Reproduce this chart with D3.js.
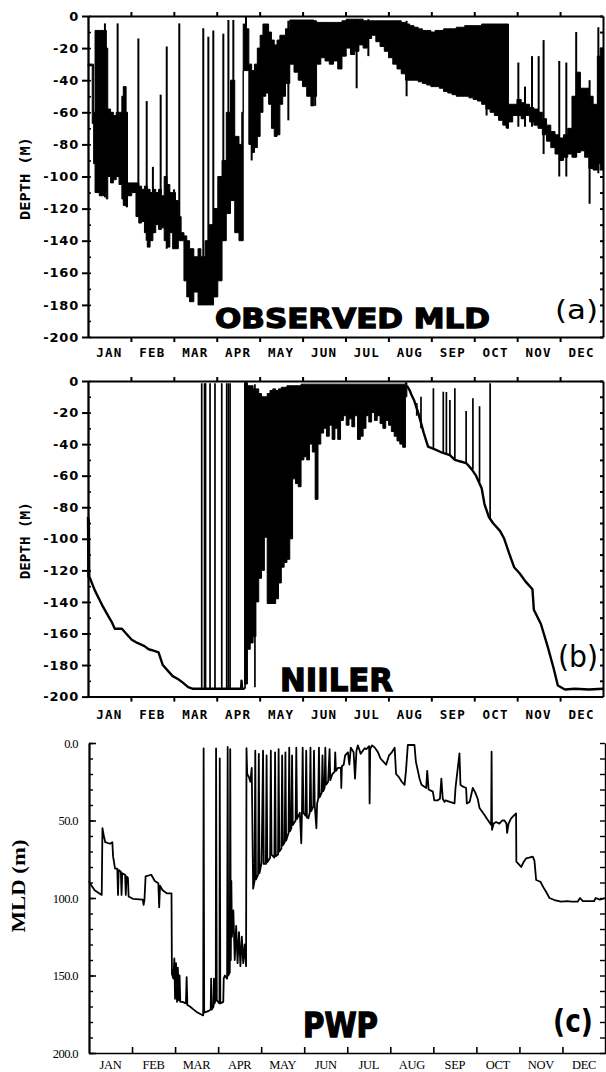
<!DOCTYPE html>
<html><head><meta charset="utf-8">
<script src="https://cdn.jsdelivr.net/npm/d3@7"></script>
<style>body{margin:0;background:#fff}svg{display:block}</style>
</head><body>
<svg id="chart" width="606" height="1072"></svg>
<script>
// ---------- data ----------
const months = ["JAN","FEB","MAR","APR","MAY","JUN","JUL","AUG","SEP","OCT","NOV","DEC"];
const monthsC = ["JAN","FEB","MAR","APR","MAY","JUN","JUL","AUG","SEP","OCT","NOV","DEC"];
const depthTicks = [0,-20,-40,-60,-80,-100,-120,-140,-160,-180,-200];
const depthMinor = [0,-10,-20,-30,-40,-50,-60,-70,-80,-90,-100,-110,-120,-130,-140,-150,-160,-170,-180,-190,-200];
const mldTicks = [0,50,100,150,200];
const mldMinor = [0,10,20,30,40,50,60,70,80,90,100,110,120,130,140,150,160,170,180,190,200];

// Observed MLD: [day, shallowest depth, deepest depth] of the dense oscillation band (m)
const obsBand = [
[0,30,31],[3,30,67],[4,60,92],[5,9,110],[8,9,112],[11,9,110],[13,20,114],[14,58,100],[16,60,104],[18,62,102],[20,60,100],[22,60,105],[24,50,114],[25,44,118],[27,60,119],[28,104,112],[31,104,110],[34,104,125],[36,106,129],[38,108,128],[40,106,135],[42,108,144],[44,110,140],[46,108,135],[48,110,130],[50,108,133],[52,112,132],[54,100,140],[56,105,144],[58,110,135],[60,110,145],[62,115,145],[64,125,140],[66,135,140],[68,137,165],[70,140,175],[72,145,178],[75,150,172],[78,145,180],[80,150,180],[83,140,180],[86,130,180],[89,120,175],[92,100,165],[95,90,140],[98,60,123],[101,40,115],[104,75,135],[107,80,140],[109,60,140],
[110,5,34],[112,8,34],[114,30,80],[116,34,85],[118,30,82],[120,20,75],[122,12,60],[124,5,50],[126,5,48],[128,10,55],[130,15,70],[132,18,75],[134,15,74],[136,12,55],[138,12,50],[140,8,42],[143,2.5,30],[146,2.5,35],[149,2.5,40],[152,2.5,44],[155,2.5,50],[158,2.5,56],[160,3,50],[162,4,30],[165,4,26],[168,4,28],[171,4,30],[174,4,28],[177,4,33],[180,3,25],[183,2,20],[186,2,24],[189,2,22],[192,2,18],[195,3,20],[198,3,14],[201,3,12],[204,3,16],[207,3,19],[210,3,22],[213,3,26],[216,3,30],[219,3,33],[222,4,36],[225,5,40],[228,6,40],[231,7,40],[234,8,41],[237,9,42],[240,9,43],[243,10,44],[246,9,44],[249,9,45],[252,8,47],[255,8,48],[258,8,49],[261,7,50],[264,7,50],[267,6,50],[270,6,51],[273,6,52],[276,6,53],[279,5,55],[282,5,58],[285,5,60],[288,5,62],[291,5,65],[294,5,68],[297,5,70],
[298,55,66],[301,55,62],[304,52,62],[307,54,64],[310,55,62],[313,57,66],[316,58,68],[319,60,70],[322,64,74],[325,68,78],[328,72,82],[331,74,86],[334,76,90],[337,74,88],[340,70,86],[343,50,88],[346,35,85],[349,45,84],[352,45,88],[355,50,95],[358,55,96],[361,25,92],[363,20,96],[365,30,96]
];
// Observed MLD isolated excursions: [day, top depth, bottom depth]
const obsSpikes = [[12,4.6,113],[21,4.6,100],[35.7,14,120],[41.6,53,140],[46,94,135],[51.5,49,124],[55.8,19,145],[61,108,145],[64.7,4.6,133],[81.7,7.6,179],[85.3,13,180],[88.8,9,175],[95.9,11,140],[99.5,2.5,123],[103,2.5,115],[112,0,34],[116,34,90],[142,3,65],[161,3,56],[190.4,2,45],[198.7,2,25],[225.8,3,50],[282.5,5,62],[296.7,5,70],[305,29,69],[309.7,44,69],[314.7,25,69],[319.4,25,69],[322.9,15,86],[334,28,100],[339,29,100],[346,10,88],[355.5,40,117],[361.7,7,98]];

// Niiler model: smooth parts [day, depth], oscillating band [day, top, bottom], excursions [day, top, bottom]
const niilerWinter = [[0,86],[0.3,124],[0.6,88],[0.9,124],[1.4,125],[5,133],[10,142],[15,150],[17,153],[19,157],[24,157],[27,160],[31,164],[35,166],[40,168],[43,170],[47,171],[50,172],[53,180],[57,184],[60,187],[64,189],[67,191],[71,194],[74,195],[108.5,195],[108.8,190],[109.2,195],[111,195]];
const niilerBand = [[111,1,192],[113,3,170],[115,3,166],[117,5,162],[119,5,140],[121,8,125],[123,10,120],[125,10,99],[127,8,141],[129,6,141],[131,5,141],[133,6,138],[135,5,128],[137,4,118],[139,4,115],[141,3,113],[143,3,100],[145,3,62],[147,3,65],[149,3,67],[151,2,50],[153,2,48],[155,2,50],[157,2,40],[159,2,45],[161,2,75],[163,2,40],[165,2,33],[167,2,30],[169,2,35],[171,2,28],[173,2,37],[175,2,30],[177,2,37],[179,2,25],[181,2,22],[183,2,28],[185,2,24],[187,2,29],[189,2,22],[191,2,37],[193,2,35],[195,2,30],[197,2,22],[199,2,26],[201,2,20],[203,2,25],[205,2,22],[207,2,27],[209,2,30],[211,2,25],[213,2,28],[215,2,32],[217,2,35],[219,2,38],[221,2,40],[223,2,42],[225,1,10],[226,1,3]];
const niilerAutumn = [[226,3],[228,6],[229.4,9],[231,12],[234,20],[238,33],[241,41.6],[245,43],[250,45],[256.5,47],[260,50],[264,51],[268,52],[272,56],[275,60],[279,68],[281,78],[284,86],[287,90],[292,95],[295,100],[298,108],[302,118],[306,122],[310,127],[315,132],[316,145],[321,154],[326,169],[330,182],[333,193],[338,195.5],[345,195],[355,195.5],[365,195]];
const niilerSpikes = [[80.6,1.5,195],[82.6,1.5,195],[83.3,1.5,195],[86.5,1.5,195],[90,1.5,195],[94.8,1.5,195],[98.3,1.5,195],[99.5,1.5,195],[100.7,1.5,195],[111.3,1.5,195],[118.3,2,194],[233,14,22],[236,10,30],[244.8,4.6,43],[251.8,6.8,45],[254,7,46],[256.5,12,47],[260,4.6,50],[268,19,52],[272.8,11,56],[277.5,16,64],[285,1.5,88]];

// PWP model: [day, MLD (m)]
const pwpSeries = [
[0,89],[1,91],[4,95],[9,98],[9.5,55],[10.5,60],[11.5,64],[14.8,65],[16.5,64],[17,73],[18.4,81],[20,81],[20.5,98],[21,82],[22.5,83],[23,98],[23.5,84],[25.5,85],[26,98],[26.5,86],[27.5,87],[28,99],[31,100.5],[38,101],[38.6,104.5],[39.2,101],[40,86],[44,85],[46.5,89],[49,90.5],[49.6,106],[50.2,92],[52,95],[55,97],[58.3,97],[58.6,149],[59.6,152],[60.3,139],[60.8,165],[61.5,142],[62.2,167],[62.8,145],[63.5,166],[64,150],[64.5,167],[66,167],[68.5,168],[69,151],[69.5,169],[71.3,170],[74,172],[76,173.5],[79,175],[80.7,175.7],[81,3.5],[81.4,174],[84.2,173],[86,172],[86.3,152],[86.8,172],[88,170],[88.3,152],[88.8,168],[89.6,165],[89.8,3.5],[90.3,166],[92.2,168],[92.4,10],[92.8,168],[94.9,167],[95.2,152],[96,150],[97.6,152],[98,2.5],[98.4,150],[99.5,148],[99.8,4],[100.2,140],[100.6,89],[101,125],[102,108],[103,140],[104,118],[105,142],[106,122],[107,144],[108,125],[109,142],[110,130],[111,144],[111.3,3.4],[111.8,20],[113,22],[114,25],[115,16],[116,94],[117,89],[117.5,5],[118,88],[119.5,85],[120,7],[120.5,84],[122,77],[123,5],[123.5,78],[125,78],[125.5,8],[126,77],[128,74],[128.5,5],[129,72],[131,74],[131.5,6],[132,73],[133.6,72],[134,4],[134.5,70],[136,68],[136.5,8],[137,66],[138.3,64],[138.8,6],[139.3,63],[141,58],[141.5,3],[142,57],[143,55],[143.5,8],[144,53],[146,50],[146.5,3],[147,49],[149,45],[150,64.7],[150.5,44],[151,3],[151.5,45],[153,47],[153.5,5],[154,48],[155,48.6],[156,45],[156.5,3],[157,44],[158.5,41],[159,5],[159.5,40],[160.7,55],[161.2,39],[162,36],[162.5,3],[163,35],[164.5,32],[165,8],[165.5,31],[166.5,29],[167,3],[167.5,27],[169,25],[170,4],[170.5,24],[172,20],[173.6,18.5],[174,6],[174.5,18],[176,16],[178,16],[178.3,29],[178.7,15],[180,14],[181,8],[183,6],[184,14],[185,3],[187,6],[188,23],[189,5],[190,1.5],[192,7],[194.8,3.4],[196,4],[198,2],[198.3,39],[198.7,4],[200,1.5],[202,3],[204,5.6],[206,10],[208,12],[210,14],[212,8],[214,6],[216,3],[217,20],[219,22],[221,25],[223,27],[224,18],[225.3,1.3],[230,1.3],[231,12],[233.6,23],[235,27],[238.3,29],[239,18],[240,30],[243,31.4],[244,37],[246.5,37],[248,36],[249,23],[250,36],[251.2,38],[252,37],[255,38],[258.3,39],[259,29],[261.8,6.7],[262.5,27],[264,28],[266.5,29],[267,39],[269,38],[271.2,29],[273,32],[274.7,36],[276,42],[279.5,46.5],[281,48.6],[284.2,52.9],[284.5,5.6],[284.8,56],[286,52],[287.7,51],[290,52],[292,50],[293.6,50],[295,52],[295.5,58],[296.5,52],[298.3,48.6],[300,47],[301.8,45.4],[302,76.6],[303.5,78],[305.4,80],[307,77],[309,74.4],[311,74],[313.6,73.3],[314.8,76],[316,88.4],[319,89.5],[321,93],[323,96],[325.4,100],[328.9,101.3],[333.6,102.4],[338,102],[341,102.4],[345.3,102.4],[347,100],[349,102],[352,102],[357,102],[358,100],[361,101],[365,100]
];

// ---------- scales ----------
const svg = d3.select("#chart");
const xA = d3.scaleLinear().domain([0,365]).range([88,603]);
const yA = d3.scaleLinear().domain([0,-200]).range([16,337]);
const yB = d3.scaleLinear().domain([0,-200]).range([381,696.6]);
const xC = d3.scaleLinear().domain([0,365]).range([89,605.5]);
const yC = d3.scaleLinear().domain([0,200]).range([743,1053]);
const monthBounds = d3.range(1,12).map(i => i*365/12);
const monthMids = months.map((m,i) => (i+0.5)*365/12);

const SANS = "'DejaVu Sans', sans-serif";
const MONO = "'DejaVu Sans Mono', monospace";
const SERIF = "'Liberation Serif', 'Times New Roman', serif";

// ---------- marks ----------
function drawBand(data, y){
  svg.append("path").datum(data)
    .attr("d", d3.area().curve(d3.curveStepAfter)
      .x(d => xA(d[0])).y0(d => y(-d[1])).y1(d => y(-d[2])))
    .attr("fill","#000").attr("stroke","#000").attr("stroke-width",1);
}
function drawSpikes(data, y, w){
  svg.append("g").selectAll("line").data(data).join("line")
    .attr("x1", d => xA(d[0])).attr("x2", d => xA(d[0]))
    .attr("y1", d => y(-d[1])).attr("y2", d => y(-d[2]))
    .attr("stroke","#000").attr("stroke-width", w);
}
function drawLine(data, x, y, sign, w){
  svg.append("path").datum(data)
    .attr("d", d3.line().x(d => x(d[0])).y(d => y(sign*d[1])))
    .attr("fill","none").attr("stroke","#000").attr("stroke-width", w)
    .attr("stroke-linejoin","round");
}

// panel a
drawBand(obsBand, yA);
drawSpikes(obsSpikes, yA, 2);
// panel b
drawLine(niilerWinter, xA, yB, -1, 2.4);
drawBand(niilerBand, yB);
drawLine(niilerAutumn, xA, yB, -1, 2.4);
drawSpikes(niilerSpikes, yB, 1.7);
// panel c
drawLine(pwpSeries, xC, yC, 1, 1.8);

// ---------- axes ----------
function styleAxis(g, w){
  g.selectAll("path.domain").attr("stroke","#000").attr("stroke-width",w);
  g.selectAll(".tick line").attr("stroke","#000").attr("stroke-width",w);
}
function depthPanel(y, top, bottom, monthY, title, titleLen){
  const L = 88, R = 603;
  const gl = svg.append("g").attr("transform",`translate(${L},0)`)
    .call(d3.axisLeft(y).tickValues(depthTicks).tickSize(6).tickSizeOuter(0).tickPadding(3).tickFormat(d => String(d)));
  styleAxis(gl, 2);
  gl.selectAll("text").attr("font-family",SANS).attr("font-weight","bold").attr("font-size",13).attr("letter-spacing",0.8).attr("fill","#000");
  const gli = svg.append("g").attr("transform",`translate(${L},0)`)
    .call(d3.axisRight(y).tickValues(depthMinor).tickSize(3).tickSizeOuter(0).tickFormat(""));
  styleAxis(gli, 1.6);
  const gr = svg.append("g").attr("transform",`translate(${R},0)`)
    .call(d3.axisLeft(y).tickValues(depthMinor).tickSize(3).tickSizeOuter(0).tickFormat(""));
  styleAxis(gr, 2);
  const gt = svg.append("g").attr("transform",`translate(0,${top})`)
    .call(d3.axisTop(xA).tickValues(monthBounds).tickSize(4).tickSizeOuter(0).tickFormat(""));
  styleAxis(gt, 2);
  const gb = svg.append("g").attr("transform",`translate(0,${bottom})`)
    .call(d3.axisBottom(xA).tickValues(monthBounds).tickSize(5).tickSizeOuter(0).tickFormat(""));
  styleAxis(gb, 2);
  svg.append("g").selectAll("text").data(months).join("text")
    .attr("x",(d,i) => xA(monthMids[i])).attr("y",monthY)
    .attr("text-anchor","middle").attr("dominant-baseline","central")
    .attr("font-family",MONO).attr("font-weight","bold").attr("font-size",12.5).attr("letter-spacing",1.2)
    .text(d => d);
  const cy = (top+bottom)/2 + 2;
  svg.append("text").attr("transform",`translate(30,${cy}) rotate(-90)`)
    .attr("text-anchor","middle").attr("font-family",MONO).attr("font-weight","bold").attr("font-size",13.5)
    .attr("textLength",titleLen).attr("lengthAdjust","spacingAndGlyphs")
    .text(title);
}
depthPanel(yA, 16, 337, 352, "DEPTH  (M)", 83);
depthPanel(yB, 381, 696.6, 714, "DEPTH  (M)", 77);

// panel c axes
{
  const gl = svg.append("g").attr("transform",`translate(89,0)`)
    .call(d3.axisLeft(yC).tickValues(mldTicks).tickSize(0).tickSizeOuter(0).tickPadding(11).tickFormat(d3.format(".1f")));
  styleAxis(gl, 1.6);
  gl.selectAll("text").attr("font-family",SERIF).attr("font-size",12.5).attr("letter-spacing",-0.6).attr("fill","#000");
  const gmin = svg.append("g").attr("transform",`translate(89,0)`)
    .call(d3.axisRight(yC).tickValues(mldMinor).tickSize(4).tickSizeOuter(0).tickFormat(""));
  styleAxis(gmin, 1.4);
  const gmaj = svg.append("g").attr("transform",`translate(89,0)`)
    .call(d3.axisRight(yC).tickValues(mldTicks).tickSize(7).tickSizeOuter(0).tickFormat(""));
  styleAxis(gmaj, 1.6);
  const gr = svg.append("g").attr("transform",`translate(605,0)`)
    .call(d3.axisLeft(yC).tickValues(mldMinor).tickSize(5).tickSizeOuter(0).tickFormat(""));
  styleAxis(gr, 1.4);
  const gb = svg.append("g").attr("transform",`translate(0,1053)`)
    .call(d3.axisTop(xC).tickValues(monthBounds).tickSize(6).tickSizeOuter(0).tickFormat(""));
  styleAxis(gb, 1.6);
  svg.append("g").selectAll("text").data(monthsC).join("text")
    .attr("x",(d,i) => xC(monthMids[i])).attr("y",1069)
    .attr("text-anchor","middle").attr("font-family",SERIF).attr("font-size",12.5).attr("letter-spacing",-0.3)
    .text(d => d);
  svg.append("text").attr("transform",`translate(25,886) rotate(-90)`)
    .attr("text-anchor","middle").attr("font-family",SERIF).attr("font-weight","bold").attr("font-size",19)
    .attr("textLength",93).attr("lengthAdjust","spacingAndGlyphs")
    .text("MLD (m)");
}

// ---------- panel titles ----------
function heavy(txt, x, y, size, len){
  svg.append("text").attr("x",x).attr("y",y)
    .attr("font-family",SANS).attr("font-weight","bold").attr("font-size",size)
    .attr("stroke","#000").attr("stroke-width",1.3).attr("fill","#000")
    .attr("textLength",len).attr("lengthAdjust","spacingAndGlyphs").text(txt);
}
function tag(txt, x, y, size, len, weight){
  svg.append("text").attr("x",x).attr("y",y)
    .attr("font-family",SANS).attr("font-weight",weight).attr("font-size",size)
    .attr("textLength",len).attr("lengthAdjust","spacingAndGlyphs").text(txt);
}
heavy("OBSERVED MLD", 215, 328, 27, 275);
tag("(a)", 555, 319, 27, 43, "normal");
heavy("NIILER", 280, 691, 32, 113);
tag("(b)", 558, 667, 30, 40, "normal");
heavy("PWP", 303, 1037, 33, 75);
tag("(c)", 553, 1032, 32, 40, "bold");
</script>
</body></html>
